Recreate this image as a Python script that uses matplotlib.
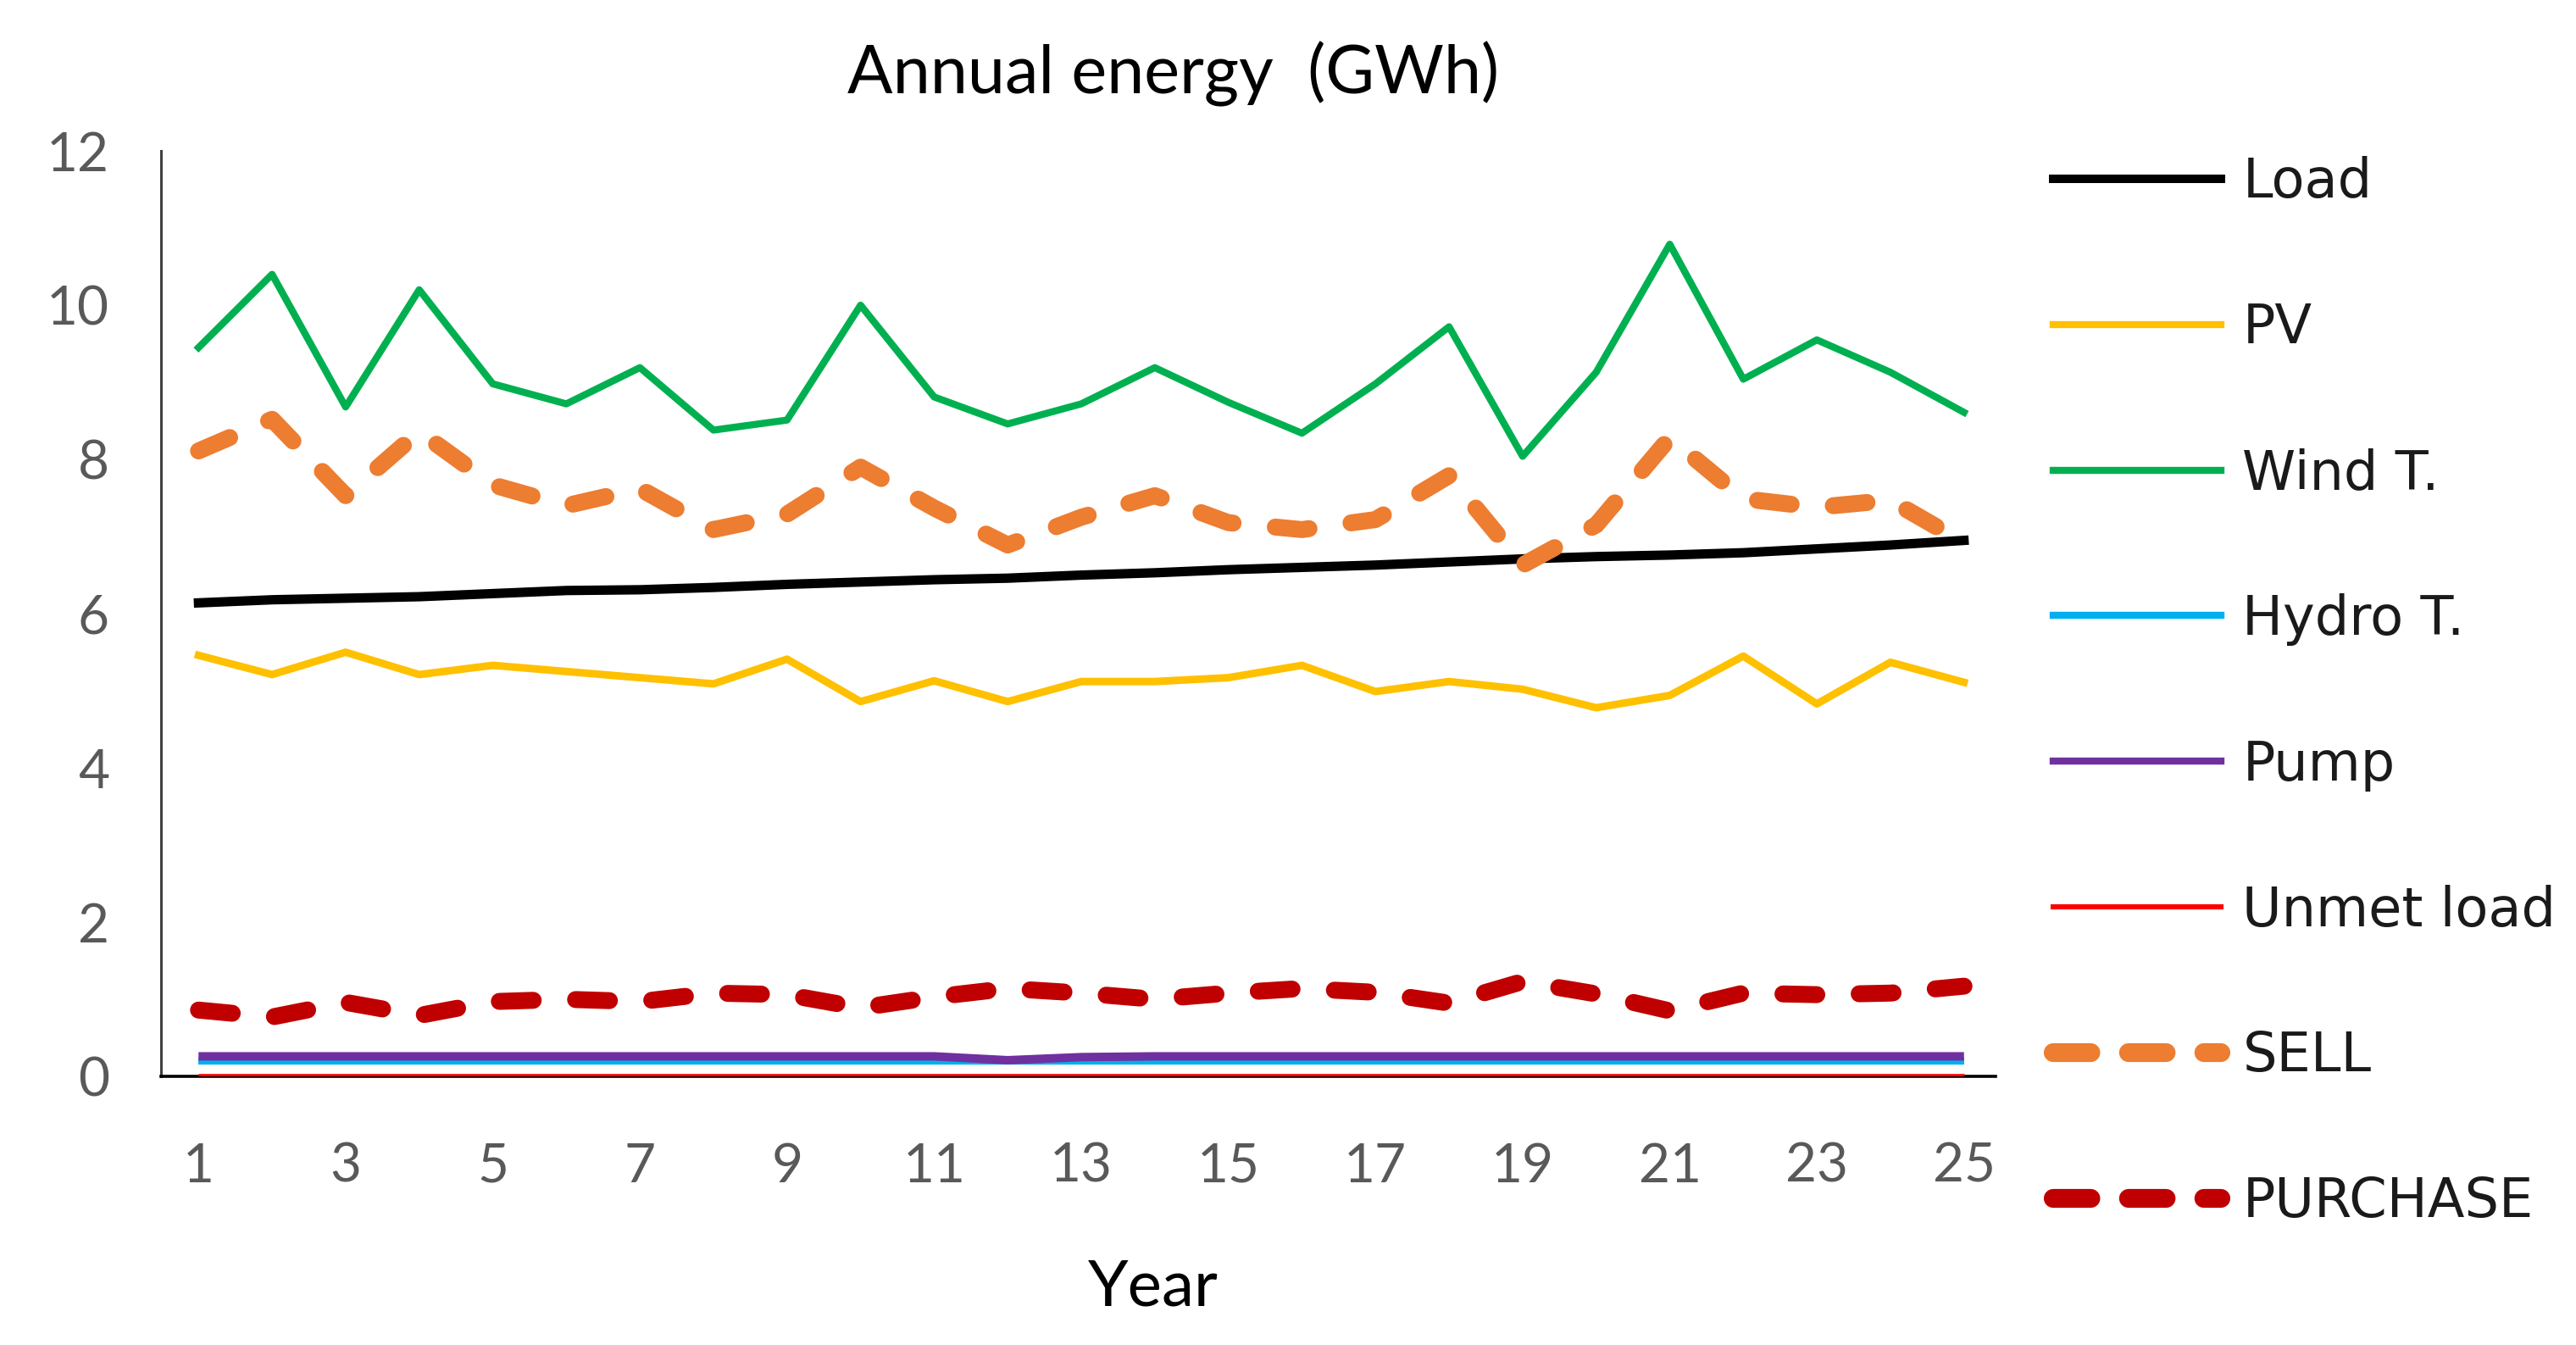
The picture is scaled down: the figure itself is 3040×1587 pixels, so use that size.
import matplotlib
matplotlib.use("Agg")
import matplotlib.pyplot as plt
from matplotlib.lines import Line2D

years = list(range(1, 26))
load = [6.14, 6.18, 6.20, 6.22, 6.26, 6.30, 6.31, 6.34, 6.38, 6.41, 6.44, 6.46, 6.50,
        6.53, 6.57, 6.60, 6.63, 6.67, 6.71, 6.74, 6.76, 6.79, 6.84, 6.89, 6.95]
pv = [5.46, 5.21, 5.50, 5.21, 5.33, 5.25, 5.17, 5.09, 5.41, 4.86, 5.13, 4.86, 5.12,
      5.12, 5.17, 5.33, 4.99, 5.12, 5.02, 4.78, 4.94, 5.45, 4.83, 5.37, 5.11]
wind = [9.45, 10.40, 8.68, 10.20, 8.98, 8.72, 9.19, 8.38, 8.51, 10.00, 8.81, 8.46, 8.72,
        9.19, 8.74, 8.34, 8.98, 9.72, 8.04, 9.13, 10.79, 9.04, 9.55, 9.13, 8.61]
hydro = [0.20] * 25
pump = [0.26, 0.26, 0.26, 0.26, 0.26, 0.26, 0.26, 0.26, 0.26, 0.26, 0.26, 0.21, 0.25,
        0.26, 0.26, 0.26, 0.26, 0.26, 0.26, 0.26, 0.26, 0.26, 0.26, 0.26, 0.26]
unmet = [0.0] * 25
sell = [8.11, 8.52, 7.53, 8.36, 7.67, 7.40, 7.62, 7.09, 7.29, 7.90, 7.37, 6.89, 7.25,
        7.53, 7.18, 7.09, 7.22, 7.79, 6.63, 7.15, 8.28, 7.49, 7.38, 7.47, 6.92]
purchase = [0.86, 0.77, 0.96, 0.79, 0.97, 1.00, 0.97, 1.08, 1.06, 0.89, 1.03, 1.14, 1.08,
            1.00, 1.08, 1.14, 1.09, 0.95, 1.23, 1.07, 0.85, 1.08, 1.06, 1.08, 1.17]

yticks = [0, 2, 4, 6, 8, 10, 12]
xticks = list(range(1, 26, 2))

fig = plt.figure(figsize=(15.2, 7.935), dpi=200)
ax = fig.add_axes([0.0625, 0.1997, 0.7122, 0.6881])

ax.plot(years, hydro, color="#00B0F0", lw=3.0, solid_capstyle="butt", zorder=3)
ax.plot(years, pump, color="#7030A0", lw=3.6, solid_capstyle="butt", zorder=4)
ax.plot(years, unmet, color="#FF0000", lw=2.4, solid_capstyle="butt", zorder=5)
ax.plot(years, purchase, color="#C00000", lw=7.2, dashes=(2.0, 2.5),
        dash_capstyle="round", zorder=5)
ax.plot(years, pv, color="#FFC000", lw=3.2, zorder=5)
ax.plot(years, load, color="#000000", lw=4.0, zorder=6)
ax.plot(years, wind, color="#00B050", lw=3.0, zorder=6)
ax.plot(years, sell, color="#ED7D31", lw=7.2, dashes=(2.0, 2.5),
        dash_capstyle="round", zorder=7)

ax.set_xlim(0.49, 25.43)
ax.set_ylim(0, 12)
ax.set_xticks(xticks)
ax.set_yticks(yticks)
for s in ["top", "right"]:
    ax.spines[s].set_visible(False)
ax.spines["left"].set_linewidth(1.1)
ax.spines["left"].set_color("#404040")
ax.spines["bottom"].set_linewidth(1.3)
ax.spines["bottom"].set_color("#000000")
ax.tick_params(axis="both", length=0, labelsize=23, labelcolor="#595959")
ax.tick_params(axis="y", pad=22)
ax.tick_params(axis="x", pad=28)
for lab in ax.get_xticklabels() + ax.get_yticklabels():
    lab.set_family("Lato")

fig.text(0.4553, 0.945, "Annual energy  (GWh)", ha="center", va="center",
         fontsize=28.5, family="Lato", color="#000000")
fig.text(0.4477, 0.043, "Year", ha="center", va="center",
         fontsize=27.5, family="Lato", color="#000000")

names = ["Load", "PV", "Wind T.", "Hydro T.", "Pump", "Unmet load", "SELL", "PURCHASE"]
handles = [
    Line2D([], [], color="#000000", lw=3.6),
    Line2D([], [], color="#FFC000", lw=3.0),
    Line2D([], [], color="#00B050", lw=3.0),
    Line2D([], [], color="#00B0F0", lw=3.0),
    Line2D([], [], color="#7030A0", lw=3.0),
    Line2D([], [], color="#FF0000", lw=2.2),
    Line2D([], [], color="#ED7D31", lw=8.0, dashes=(2.0, 2.0), dash_capstyle="round"),
    Line2D([], [], color="#C00000", lw=8.0, dashes=(2.0, 2.0), dash_capstyle="round"),
]
leg = fig.legend(handles, names, loc="upper left", bbox_to_anchor=(0.797, 0.884),
                 frameon=False, fontsize=23, handlelength=3.1, handletextpad=0.4,
                 labelspacing=1.72, borderpad=0, borderaxespad=0)
for t in leg.get_texts():
    t.set_color("#1a1a1a")
    t.set_family("DejaVu Sans")

fig.savefig("out.png", dpi=200, facecolor="white")
